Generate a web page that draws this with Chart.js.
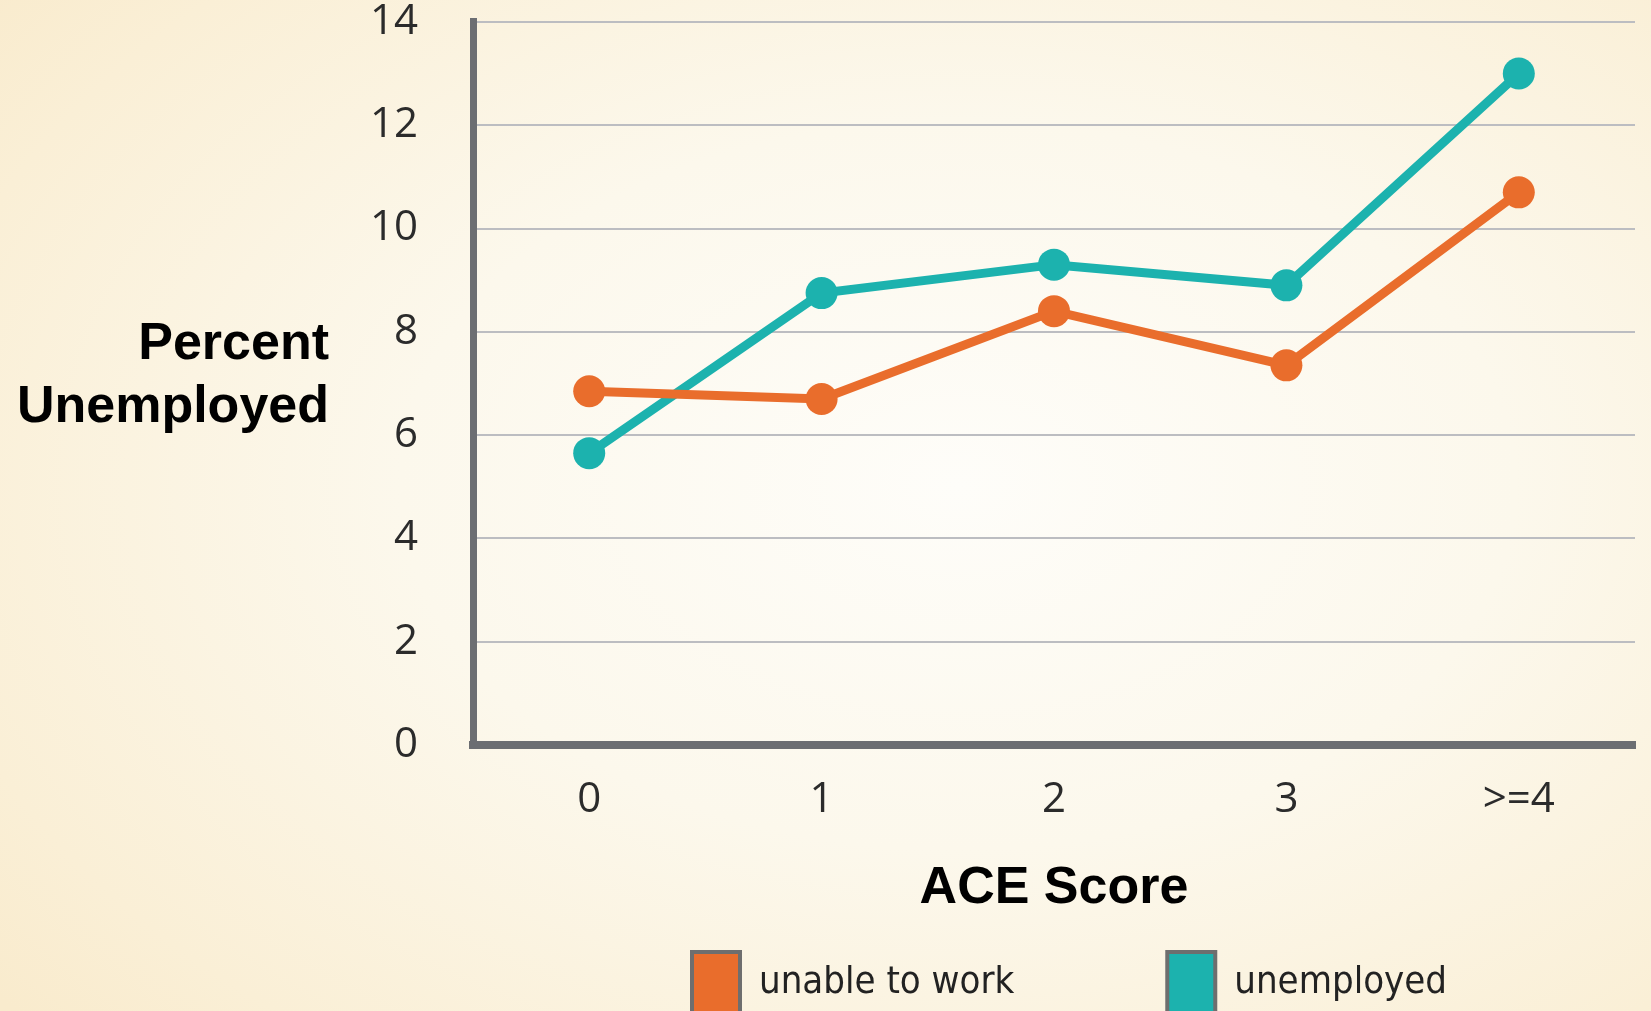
<!DOCTYPE html>
<html>
<head>
<meta charset="utf-8">
<script src="https://cdn.jsdelivr.net/npm/chart.js@4.4.1/dist/chart.umd.min.js"></script>
<style>
  html, body { margin: 0; padding: 0; }
  body {
    width: 1651px; height: 1011px; overflow: hidden; position: relative;
    background: radial-gradient(ellipse 75% 80% at 58% 48%, #fefdf9 0%, #fcf8ec 45%, #faefd6 85%, #f9ebcd 100%);
  }
  #c { position: absolute; left: 0; top: 0; }
  #ytitle {
    position: absolute; left: 0; top: 310px; width: 329px; text-align: right;
    font-family: "Liberation Sans", Arial, sans-serif; font-weight: bold; font-size: 52px;
    line-height: 63px; color: #000;
  }
</style>
</head>
<body>
<canvas id="c" width="1651" height="1011"></canvas>
<div id="ytitle">Percent<br>Unemployed</div>
<script>
// ---- data ----
const categories = ['0', '1', '2', '3', '>=4'];
const unableToWork = [6.85, 6.7, 8.4, 7.35, 10.7];
const unemployed = [5.65, 8.75, 9.3, 8.9, 13.0];
const seriesNames = ['unable to work', 'unemployed'];
const xAxisTitle = 'ACE Score';

// ---- styles ----
const ORANGE = '#e96d2c';
const TEAL = '#1cb2ae';
const AXIS = '#6c6e72';
const GRID = '#bcbdc1';
const TICK_FONT = { family: "'Open Sans', 'DejaVu Sans', sans-serif", size: 42, lineHeight: 0.9 };
const LEGEND_PAD = 153;

const legendShift = {
  id: 'legendShift',
  afterLayout(chart) {
    const lg = chart.legend;
    if (!lg) return;
    const dx = (692 - LEGEND_PAD) - lg.left;
    lg.left += dx; lg.right += dx;
    lg.top = 952 - LEGEND_PAD;
    lg.bottom = 1011;
  }
};

new Chart(document.getElementById('c'), {
  type: 'line',
  data: {
    labels: categories,
    datasets: [
      { label: seriesNames[0], data: unableToWork, borderColor: ORANGE, backgroundColor: ORANGE,
        borderWidth: 9, pointRadius: 16, pointHoverRadius: 16, pointBorderWidth: 0,
        pointBackgroundColor: ORANGE, tension: 0 },
      { label: seriesNames[1], data: unemployed, borderColor: TEAL, backgroundColor: TEAL,
        borderWidth: 9, pointRadius: 16, pointHoverRadius: 16, pointBorderWidth: 0,
        pointBackgroundColor: TEAL, tension: 0 }
    ]
  },
  options: {
    responsive: false,
    animation: false,
    devicePixelRatio: 1,
    layout: { padding: { top: 19, left: 0, right: 0, bottom: 0 } },
    plugins: {
      tooltip: { enabled: false },
      legend: {
        position: 'bottom',
        align: 'start',
        maxHeight: 120,
        labels: {
          boxWidth: 48,
          boxHeight: 62,
          padding: LEGEND_PAD,
          color: '#222',
          font: { family: "'DejaVu Sans Condensed', Lato, sans-serif", size: 38 },
          generateLabels(chart) {
            return chart.data.datasets.map((ds, i) => ({
              text: ds.label, fillStyle: ds.borderColor, strokeStyle: '#6e6e6e',
              lineWidth: 4, hidden: false, datasetIndex: i, fontColor: '#222'
            }));
          }
        }
      }
    },
    scales: {
      x: {
        type: 'category',
        offset: true,
        afterFit(scale) { scale.height = 146; },
        grid: { display: true, drawOnChartArea: false, drawTicks: false, color: 'transparent' },
        border: { display: true, color: AXIS, width: 8 },
        ticks: { padding: 36, color: '#2b2b2b', font: TICK_FONT, maxRotation: 0 },
        title: {
          display: true, text: xAxisTitle, color: '#000', padding: 0,
          font: { family: "'Liberation Sans', Arial, sans-serif", weight: 'bold', size: 52, lineHeight: 0.1 }
        }
      },
      y: {
        min: 0, max: 14,
        afterFit(scale) { scale.width = 473; },
        grid: { color: GRID, lineWidth: 2, drawTicks: true, tickLength: 52, tickColor: 'transparent' },
        border: { display: true, color: AXIS, width: 7 },
        ticks: { stepSize: 2, padding: 3, color: '#2b2b2b', font: TICK_FONT }
      }
    }
  },
  plugins: [legendShift]
});
</script>
</body>
</html>
